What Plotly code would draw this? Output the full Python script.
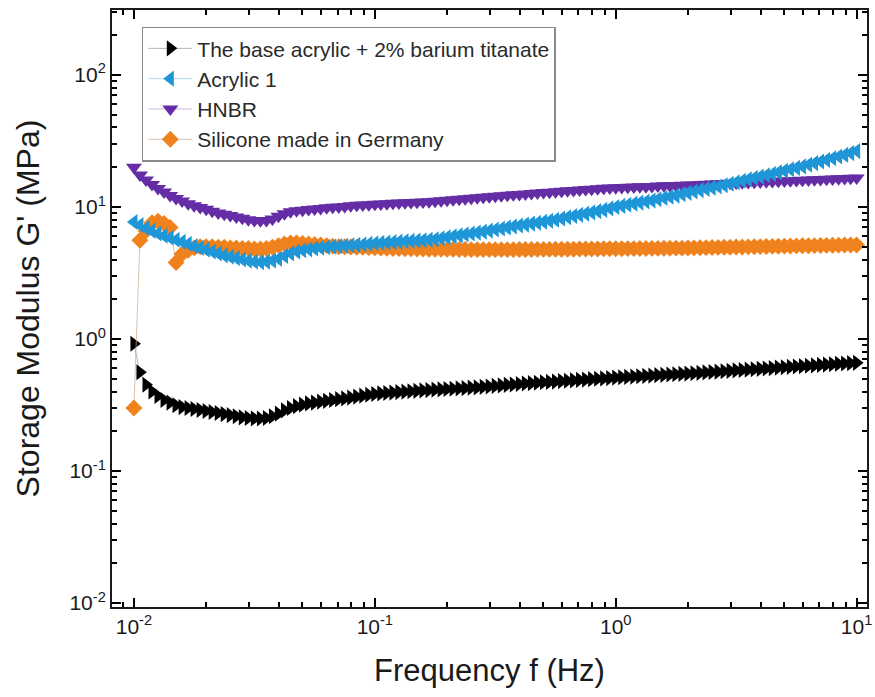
import plotly.graph_objects as go

# ---------------- data ----------------
FREQ_HZ = [
    0.01, 0.01059, 0.01122, 0.01189, 0.01259, 0.01334, 0.01413, 0.01496, 0.01585, 0.01679,
    0.01778, 0.01884, 0.01995, 0.02113, 0.02239, 0.02371, 0.02512, 0.02661, 0.02818, 0.02985,
    0.03162, 0.03350, 0.03548, 0.03758, 0.03981, 0.04217, 0.04467, 0.04732, 0.05012, 0.05309,
    0.05623, 0.05957, 0.06310, 0.06683, 0.07079, 0.07499, 0.07943, 0.08414, 0.08913, 0.09441,
    0.1, 0.1059, 0.1122, 0.1189, 0.1259, 0.1334, 0.1413, 0.1496, 0.1585, 0.1679,
    0.1778, 0.1884, 0.1995, 0.2113, 0.2239, 0.2371, 0.2512, 0.2661, 0.2818, 0.2985,
    0.3162, 0.3350, 0.3548, 0.3758, 0.3981, 0.4217, 0.4467, 0.4732, 0.5012, 0.5309,
    0.5623, 0.5957, 0.6310, 0.6683, 0.7079, 0.7499, 0.7943, 0.8414, 0.8913, 0.9441,
    1.0, 1.059, 1.122, 1.189, 1.259, 1.334, 1.413, 1.496, 1.585, 1.679,
    1.778, 1.884, 1.995, 2.113, 2.239, 2.371, 2.512, 2.661, 2.818, 2.985,
    3.162, 3.350, 3.548, 3.758, 3.981, 4.217, 4.467, 4.732, 5.012, 5.309,
    5.623, 5.957, 6.310, 6.683, 7.079, 7.499, 7.943, 8.414, 8.913, 9.441,
    10.0,
]

G_BASE_ACRYLIC_BT = [
    0.92, 0.56, 0.45, 0.40, 0.37, 0.345, 0.33, 0.315, 0.305, 0.30,
    0.295, 0.29, 0.285, 0.28, 0.275, 0.27, 0.265, 0.26, 0.255, 0.252,
    0.25, 0.25, 0.252, 0.26, 0.272, 0.288, 0.30, 0.31, 0.318, 0.325,
    0.33, 0.335, 0.34, 0.345, 0.35, 0.355, 0.36, 0.366, 0.372, 0.378,
    0.383, 0.387, 0.39, 0.393, 0.396, 0.399, 0.402, 0.405, 0.408, 0.41,
    0.413, 0.415, 0.418, 0.42, 0.423, 0.425, 0.428, 0.43, 0.434, 0.437,
    0.441, 0.445, 0.449, 0.452, 0.456, 0.46, 0.463, 0.466, 0.47, 0.473,
    0.476, 0.48, 0.483, 0.486, 0.49, 0.493, 0.496, 0.50, 0.503, 0.506,
    0.51, 0.513, 0.516, 0.519, 0.522, 0.525, 0.528, 0.532, 0.535, 0.538,
    0.541, 0.544, 0.547, 0.55, 0.554, 0.558, 0.562, 0.566, 0.57, 0.574,
    0.578, 0.582, 0.586, 0.59, 0.594, 0.598, 0.602, 0.607, 0.611, 0.615,
    0.619, 0.623, 0.627, 0.631, 0.636, 0.64, 0.644, 0.648, 0.652, 0.656,
    0.66,
]

G_ACRYLIC_1 = [
    7.7, 7.3, 6.9, 6.6, 6.3, 6.05, 5.85, 5.65, 5.45, 5.25,
    5.05, 4.9, 4.75, 4.6, 4.45, 4.3, 4.2, 4.1, 4.0, 3.92,
    3.85, 3.82, 3.85, 3.93, 4.05, 4.25, 4.45, 4.6, 4.7, 4.78,
    4.85, 4.92, 4.97, 5.01, 5.05, 5.08, 5.12, 5.16, 5.2, 5.25,
    5.3, 5.34, 5.38, 5.42, 5.46, 5.5, 5.53, 5.56, 5.6, 5.64,
    5.7, 5.8, 5.9, 6.0, 6.1, 6.2, 6.3, 6.4, 6.5, 6.62,
    6.75, 6.87, 7.0, 7.12, 7.24, 7.36, 7.48, 7.6, 7.73, 7.86,
    8.0, 8.18, 8.36, 8.54, 8.72, 8.9, 9.1, 9.3, 9.5, 9.75,
    10.0, 10.2, 10.4, 10.6, 10.8, 11.0, 11.2, 11.45, 11.7, 11.95,
    12.2, 12.5, 12.8, 13.1, 13.4, 13.7, 14.0, 14.3, 14.6, 15.0,
    15.4, 15.8, 16.2, 16.6, 17.0, 17.4, 17.8, 18.3, 18.8, 19.3,
    19.8, 20.3, 20.9, 21.5, 22.1, 22.7, 23.4, 24.1, 24.8, 25.6,
    26.5,
]

G_HNBR = [
    20.0, 17.5, 16.0, 14.8, 13.8, 13.0, 12.2, 11.6, 11.1, 10.6,
    10.2, 9.9, 9.6, 9.3, 9.0, 8.8, 8.6, 8.4, 8.2, 8.0,
    7.9, 7.85, 7.9, 8.1, 8.5, 8.9, 9.2, 9.35, 9.45, 9.55,
    9.65, 9.75, 9.85, 9.95, 10.0, 10.1, 10.2, 10.3, 10.35, 10.4,
    10.5, 10.55, 10.6, 10.65, 10.7, 10.75, 10.8, 10.85, 10.9, 10.95,
    11.05, 11.15, 11.25, 11.35, 11.45, 11.55, 11.65, 11.75, 11.85, 11.95,
    12.05, 12.15, 12.25, 12.35, 12.45, 12.55, 12.65, 12.75, 12.85, 12.95,
    13.05, 13.15, 13.25, 13.35, 13.45, 13.55, 13.65, 13.75, 13.85, 13.95,
    14.0, 14.05, 14.1, 14.15, 14.2, 14.25, 14.3, 14.4, 14.45, 14.5,
    14.55, 14.6, 14.65, 14.7, 14.77, 14.84, 14.91, 14.98, 15.05, 15.12,
    15.19, 15.26, 15.33, 15.4, 15.47, 15.54, 15.61, 15.68, 15.75, 15.82,
    15.89, 15.96, 16.03, 16.1, 16.17, 16.24, 16.31, 16.38, 16.45, 16.52,
    16.6,
]

G_SILICONE_DE = [
    0.30, 5.6, 6.6, 7.6, 7.8, 7.5, 7.0, 3.8, 4.4, 4.7,
    4.9, 5.0, 5.0, 5.0, 4.95, 4.95, 4.9, 4.9, 4.85, 4.85,
    4.8, 4.8, 4.85, 4.95, 5.1, 5.25, 5.35, 5.35, 5.3, 5.25,
    5.2, 5.15, 5.1, 5.05, 5.0, 5.0, 4.98, 4.96, 4.94, 4.92,
    4.9, 4.88, 4.86, 4.85, 4.84, 4.83, 4.82, 4.81, 4.8, 4.79,
    4.78, 4.78, 4.77, 4.77, 4.76, 4.76, 4.75, 4.75, 4.75, 4.75,
    4.75, 4.75, 4.75, 4.75, 4.76, 4.76, 4.76, 4.77, 4.77, 4.77,
    4.78, 4.78, 4.79, 4.79, 4.8, 4.8, 4.81, 4.81, 4.82, 4.82,
    4.83, 4.83, 4.84, 4.84, 4.85, 4.85, 4.86, 4.86, 4.87, 4.87,
    4.88, 4.88, 4.89, 4.9, 4.91, 4.92, 4.93, 4.94, 4.95, 4.96,
    4.97, 4.98, 4.99, 5.0, 5.01, 5.02, 5.03, 5.04, 5.05, 5.06,
    5.07, 5.08, 5.09, 5.1, 5.11, 5.12, 5.13, 5.14, 5.15, 5.15,
    5.15,
]

SERIES_NAMES = [
    "The base acrylic + 2% barium titanate",
    "Acrylic 1",
    "HNBR",
    "Silicone made in Germany",
]

X_MAJOR_TICKS = [0.01, 0.1, 1, 10]
X_MAJOR_LABELS = ["10<sup>-2</sup>", "10<sup>-1</sup>", "10<sup>0</sup>", "10<sup>1</sup>"]
X_MINOR_TICKS = [0.009,
                 0.02, 0.03, 0.04, 0.05, 0.06, 0.07, 0.08, 0.09,
                 0.2, 0.3, 0.4, 0.5, 0.6, 0.7, 0.8, 0.9,
                 2, 3, 4, 5, 6, 7, 8, 9]

Y_MAJOR_TICKS = [0.01, 0.1, 1, 10, 100]
Y_MAJOR_LABELS = ["10<sup>-2</sup>", "10<sup>-1</sup>", "10<sup>0</sup>", "10<sup>1</sup>", "10<sup>2</sup>"]
Y_MINOR_TICKS = [0.02, 0.03, 0.04, 0.05, 0.06, 0.07, 0.08, 0.09,
                 0.2, 0.3, 0.4, 0.5, 0.6, 0.7, 0.8, 0.9,
                 2, 3, 4, 5, 6, 7, 8, 9,
                 20, 30, 40, 50, 60, 70, 80, 90,
                 200, 300]

X_RANGE_LOG = [-2.091, 1.043]
Y_RANGE_LOG = [-2.03, 2.492]

# ---------------- styling ----------------
FONT = "Liberation Sans, Arial, sans-serif"
INK = "#1a1a1a"
TICK_INK = "#000000"

styles = {
    SERIES_NAMES[0]: dict(color="#000000", line="rgba(120,120,120,0.55)", symbol="triangle-right", size=14, rank=1),
    SERIES_NAMES[1]: dict(color="#1E96D7", line="rgba(120,190,230,0.6)", symbol="triangle-left", size=14, rank=2),
    SERIES_NAMES[2]: dict(color="#652DA5", line="rgba(170,130,210,0.6)", symbol="triangle-down", size=14, rank=3),
    SERIES_NAMES[3]: dict(color="#F0821E", line="rgba(200,170,140,0.7)", symbol="diamond", size=13, rank=4),
}

data_by_name = {
    SERIES_NAMES[0]: G_BASE_ACRYLIC_BT,
    SERIES_NAMES[1]: G_ACRYLIC_1,
    SERIES_NAMES[2]: G_HNBR,
    SERIES_NAMES[3]: G_SILICONE_DE,
}

# drawing order (later = on top)
draw_order = [SERIES_NAMES[0], SERIES_NAMES[3], SERIES_NAMES[2], SERIES_NAMES[1]]

fig = go.Figure()
for name in draw_order:
    st = styles[name]
    fig.add_trace(go.Scatter(
        x=FREQ_HZ, y=data_by_name[name], name=name, mode="lines+markers",
        line=dict(color=st["line"], width=1),
        marker=dict(symbol=st["symbol"], size=st["size"], color=st["color"], line=dict(width=0)),
        legendrank=st["rank"],
    ))

fig.update_layout(
    width=875, height=697,
    margin=dict(l=112, r=3, t=10, b=90),
    paper_bgcolor="white", plot_bgcolor="white",
    font=dict(family=FONT, color=INK),
    xaxis=dict(
        type="log", range=X_RANGE_LOG,
        showline=True, linecolor=INK, linewidth=2, mirror="ticks",
        ticks="inside", ticklen=9, tickwidth=2, tickcolor=TICK_INK,
        tickmode="array", tickvals=X_MAJOR_TICKS, ticktext=X_MAJOR_LABELS,
        minor=dict(ticks="inside", ticklen=5, tickwidth=2, tickcolor=TICK_INK,
                   tickmode="array", tickvals=X_MINOR_TICKS, showgrid=False),
        showgrid=False, zeroline=False,
        tickfont=dict(family=FONT, size=21, color=INK),
        ticklabeloverflow="allow",
        title=dict(text="Frequency f (Hz)", font=dict(family=FONT, size=31, color=INK), standoff=22),
    ),
    yaxis=dict(
        type="log", range=Y_RANGE_LOG,
        showline=True, linecolor=INK, linewidth=2, mirror="ticks",
        ticks="inside", ticklen=9, tickwidth=2, tickcolor=TICK_INK,
        tickmode="array", tickvals=Y_MAJOR_TICKS, ticktext=Y_MAJOR_LABELS,
        minor=dict(ticks="inside", ticklen=5, tickwidth=2, tickcolor=TICK_INK,
                   tickmode="array", tickvals=Y_MINOR_TICKS, showgrid=False),
        showgrid=False, zeroline=False,
        tickfont=dict(family=FONT, size=21, color=INK),
        ticklabeloverflow="allow",
        title=dict(text="Storage Modulus G' (MPa)", font=dict(family=FONT, size=32, color=INK), standoff=20),
    ),
    legend=dict(
        x=0.0395, y=0.972, xanchor="left", yanchor="top",
        bgcolor="white", bordercolor="#8a8a8a", borderwidth=1.5,
        font=dict(family=FONT, size=21, color="#2a2a2a"),
        itemsizing="trace", itemwidth=44,
    ),
    showlegend=True,
)

fig.write_html("out.html")
